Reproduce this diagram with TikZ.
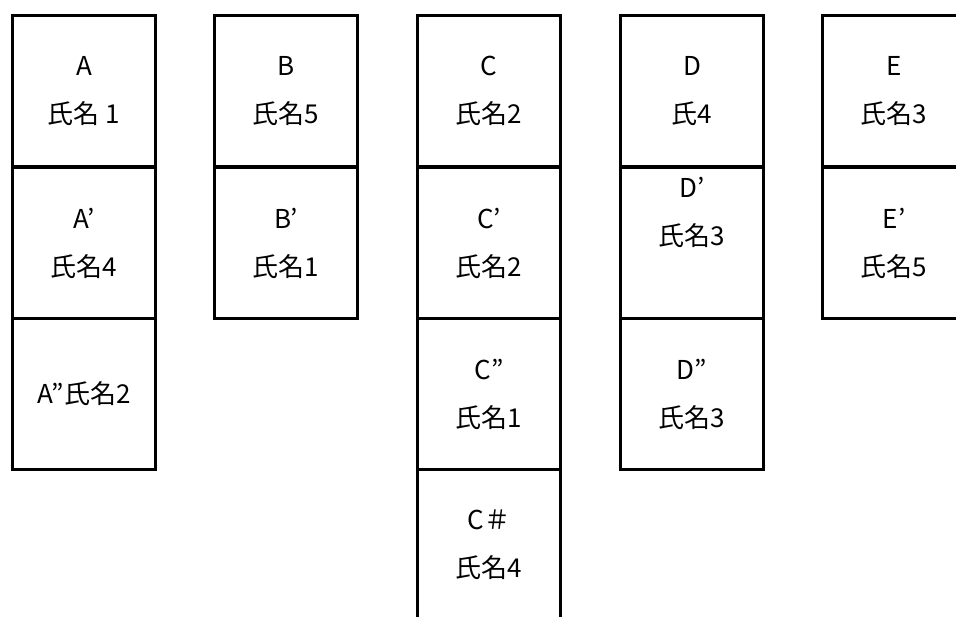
\documentclass[tikz,border=0pt]{standalone}
\usepackage{fontspec}
\newfontfamily\jpfont{Noto Sans CJK JP}
\begin{document}
\begin{tikzpicture}[x=1pt,y=-1pt,
  cell/.style={draw=black, line width=3pt, anchor=north west,
    minimum width=143pt, minimum height=151pt, inner sep=0pt,
    align=center, font=\jpfont\fontsize{26}{48}\selectfont}]
\useasboundingbox (0,0) rectangle (956,616);
\clip (0,0) rectangle (956,616);
% column A
\node[cell] (a1) at (11,14)  {A\\氏名 1};
\node[cell] (a2) at (11,166) {A’\\氏名4};
\node[cell] (a3) at (11,317) {A”氏名2};
% column B
\node[cell] (b1) at (213,14)  {B\\氏名5};
\node[cell] (b2) at (213,166) {B’\\氏名1};
% column C
\node[cell] (c1) at (416,14)  {C\\氏名2};
\node[cell] (c2) at (416,166) {C’\\氏名2};
\node[cell] (c3) at (416,317) {C”\\氏名1};
\node[cell] (c4) at (416,468) {C＃\\氏名4};
% column D
\node[cell] (d1) at (619,14)  {D\\氏4};
\node[cell] (d2) at (619,166) {D’\\氏名3\\\strut};
\node[cell] (d3) at (619,317) {D”\\氏名3};
% column E
\node[cell] (e1) at (821,14)  {E\\氏名3};
\node[cell] (e2) at (821,166) {E’\\氏名5};
\end{tikzpicture}
\end{document}
